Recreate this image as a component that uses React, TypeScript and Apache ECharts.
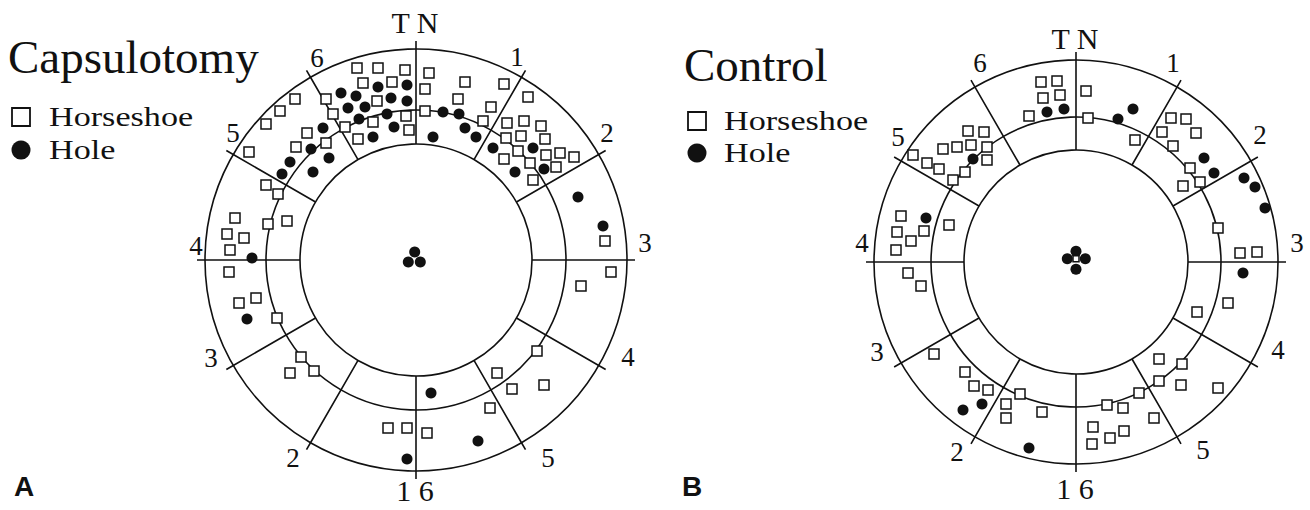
import React, { useEffect, useRef } from "react";
import * as echarts from "echarts";

// ---------------- data (offsets from each diagram's centre, in chart units; y up) ----------------
const capsHorseshoe: [number, number][] = [
  [-59, 192], [-38, 192], [-11, 190], [-53, 177], [-24, 178], [-90, 161], [-39, 159], [-83, 146],
  [-43, 138], [-10, 144], [-71, 133], [-58, 121], [-7, 130], [13, 187], [9, 171], [9, 149],
  [-121, 161], [-136, 149], [-150, 136], [-167, 108], [-109, 127], [-120, 113], [-90, 117],
  [-150, 75], [-138, 66], [-148, 36], [-129, 39], [-181, 42], [-189, 26], [-172, 22], [-186, 10],
  [-187, -12], [49, 178], [88, 176], [42, 161], [112, 163], [75, 153], [67, 139], [91, 137],
  [108, 139], [125, 134], [90, 122], [105, 124], [129, 121], [102, 109], [130, 105], [144, 107],
  [158, 103], [88, 101], [114, 97], [140, 93], [117, 80], [189, 19], [-160, -38], [-177, -43],
  [-139, -58], [-115, -97], [-126, -113], [-102, -111], [-28, -168], [-9, -168], [11, -173],
  [195, -12], [165, -26], [121, -91], [81, -113], [96, -129], [128, -125], [74, -148],
];
const capsHole: [number, number][] = [
  [-75, 167], [-60, 164], [-38, 173], [-9, 175], [-68, 152], [-51, 153], [-25, 162], [-9, 159],
  [-57, 141], [-29, 146], [-22, 133], [-43, 123], [-93, 132], [-105, 111], [-87, 102], [-126, 98],
  [-134, 86], [-103, 88], [27, 148], [17, 123], [-164, 2], [43, 146], [49, 132], [60, 123],
  [77, 112], [117, 112], [99, 88], [128, 91], [162, 63], [187, 34], [-169, -59], [15, -133],
  [-9, -199], [62, -181],
];
const capsCentreHole: [number, number][] = [[-1.3, 8], [-7.7, -2], [4.3, -2]];

const ctrlHorseshoe: [number, number][] = [
  [-35, 180], [-19, 181], [-33, 164], [-16, 167], [-47, 146], [10, 171], [12, 144], [-108, 131],
  [-92, 130], [-133, 113], [-119, 115], [-105, 117], [-89, 115], [-163, 107], [-149, 99],
  [-137, 93], [-123, 82], [-111, 90], [-89, 102], [-175, 46], [-179, 30], [-165, 21], [-152, 31],
  [-127, 37], [-180, 12], [-168, -11], [-155, -24], [-142, -92], [-111, -110], [-102, -124],
  [-88, -128], [-56, -132], [-70, -142], [-70, -156], [-34, -150], [59, 122], [95, 144],
  [110, 143], [86, 130], [120, 129], [97, 116], [114, 94], [124, 80], [107, 76], [142, 34],
  [164, 9], [181, 10], [152, -41], [121, -50], [83, -97], [106, -102], [83, -119], [105, -123],
  [142, -126], [63, -131], [31, -143], [47, -146], [78, -156], [17, -165], [34, -176], [48, -169],
  [16, -182],
];
const ctrlCentreHorseshoe: [number, number][] = [[0, 3.3]];
const ctrlHole: [number, number][] = [
  [-29, 150], [-12, 153], [-103, 103], [-150, 44], [42, 143], [57, 153], [128, 104], [138, 89],
  [168, 84], [179, 75], [189, 54], [167, -11], [-113, -148], [-94, -142], [-47, -186],
];
const ctrlCentreHole: [number, number][] = [[0, 10.7], [0, -7.3], [-8.7, 3.3], [9.3, 3.3]];

// clock-hour labels at 0°, 30°, … 330° (counter-clockwise from the right)
const clockLabels = ["3", "2", "1", "T N", "6", "5", "4", "3", "2", "1 6", "5", "4"];
const legendNames = ["Horseshoe", "Hole"];
const panelTitles = ["Capsulotomy", "Control"];
const panelLetters = ["A", "B"];

// ---------------- layout ----------------
const P = [
  { cx: 416, cy: 260, r0: 116, rMid: 150, r1: 211 },
  { cx: 1076, cy: 262, r0: 112, rMid: 145, r1: 202 },
];
const labelOffsets = [
  [[229, -17], [191, -127], [101, -203], [-1, -238], [-99, -202], [-183, -127], [-220, -14], [-205, 98], [-123, 198], [-1, 230], [132, 198], [212, 97]],
  [[221, -19], [184, -127], [97, -199], [-1, -224], [-96, -199], [-178, -125], [-214, -19], [-199, 90], [-119, 190], [-1, 226], [127, 188], [202, 88]],
];
const titlePos = [[8, 57], [684, 65]];
const legendPos = [
  { sq: [12, 108], dot: [21, 150], tx: 49, ty: [117, 150] },
  { sq: [688, 112], dot: [697, 153], tx: 724, ty: [121, 153] },
];
const letterPos = [[24, 486], [692, 486]];

const SERIF = "'Liberation Serif', 'Times New Roman', serif";
const INK = "#111";

function text(
  t: string, x: number, y: number, size: number, align = "center",
  family = SERIF, weight = "normal", scaleX = 1,
) {
  return {
    type: "text",
    x,
    y,
    scaleX,
    silent: true,
    style: {
      text: t,
      fill: INK,
      fontSize: size,
      fontFamily: family,
      fontWeight: weight,
      align,
      verticalAlign: "middle",
      textAlign: align,
      textVerticalAlign: "middle",
    },
  };
}

export default function App() {
  const ref = useRef<HTMLDivElement>(null);
  useEffect(() => {
    if (!ref.current) return;
    const chart = echarts.init(ref.current, undefined, { renderer: "svg" });

    const lineStyle = { color: INK, width: 1.6 };
    const polar: any[] = [];
    const angleAxis: any[] = [];
    const radiusAxis: any[] = [];
    P.forEach((p) => {
      // ring with the radial clock-hour lines
      polar.push({ center: [p.cx, p.cy], radius: [p.r0, p.r1] });
      // middle circle
      polar.push({ center: [p.cx, p.cy], radius: [0, p.rMid] });
    });
    polar.forEach((_, i) => {
      const ring = i % 2 === 0;
      angleAxis.push({
        polarIndex: i,
        type: "value",
        min: 0,
        max: 360,
        interval: 30,
        startAngle: 0,
        clockwise: false,
        silent: true,
        axisLine: { show: true, lineStyle },
        axisTick: { show: ring, length: 8, lineStyle },
        splitLine: { show: ring, lineStyle },
        axisLabel: { show: false },
      });
      radiusAxis.push({ polarIndex: i, type: "value", min: 0, max: 1, show: false });
    });

    const grid = P.map((p) => ({ left: p.cx - p.r1, top: p.cy - p.r1, width: 2 * p.r1, height: 2 * p.r1 }));
    const xAxis = P.map((p, i) => ({ gridIndex: i, type: "value", min: -p.r1, max: p.r1, show: false }));
    const yAxis = P.map((p, i) => ({ gridIndex: i, type: "value", min: -p.r1, max: p.r1, show: false }));

    const squares = (data: [number, number][], gi: number, size = 10, z = 3) => ({
      type: "scatter",
      name: legendNames[0],
      xAxisIndex: gi,
      yAxisIndex: gi,
      data,
      symbol: "rect",
      symbolSize: size,
      z,
      itemStyle: { color: "#fff", borderColor: INK, borderWidth: 1.5, opacity: 1 },
      silent: true,
    });
    const dots = (data: [number, number][], gi: number) => ({
      type: "scatter",
      name: legendNames[1],
      xAxisIndex: gi,
      yAxisIndex: gi,
      data,
      symbol: "circle",
      symbolSize: 11,
      z: 4,
      itemStyle: { color: INK, opacity: 1 },
      silent: true,
    });

    const graphics: any[] = [];
    P.forEach((p, k) => {
      clockLabels.forEach((lab, j) => {
        const [dx, dy] = labelOffsets[k][j];
        graphics.push(text(lab, p.cx + dx, p.cy + dy, lab.length > 1 ? 30 : 27));
      });
      graphics.push(text(panelTitles[k], titlePos[k][0], titlePos[k][1], 47, "left"));
      const L = legendPos[k];
      graphics.push({
        type: "rect",
        silent: true,
        shape: { x: L.sq[0], y: L.sq[1], width: 18, height: 18 },
        style: { fill: "#fff", stroke: INK, lineWidth: 1.8 },
      });
      graphics.push({ type: "circle", silent: true, shape: { cx: L.dot[0], cy: L.dot[1], r: 9.5 }, style: { fill: INK } });
      graphics.push(text(legendNames[0], L.tx, L.ty[0], 28, "left", SERIF, "normal", 1.22));
      graphics.push(text(legendNames[1], L.tx, L.ty[1], 28, "left", SERIF, "normal", 1.22));
      graphics.push(text(panelLetters[k], letterPos[k][0], letterPos[k][1], 28, "center", "'Liberation Sans', Arial, sans-serif", "bold"));
    });

    chart.setOption({
      animation: false,
      backgroundColor: "#fff",
      polar,
      angleAxis,
      radiusAxis,
      grid,
      xAxis,
      yAxis,
      series: [
        squares(capsHorseshoe, 0),
        dots(capsHole, 0),
        dots(capsCentreHole, 0),
        squares(ctrlHorseshoe, 1),
        dots(ctrlHole, 1),
        dots(ctrlCentreHole, 1),
        squares(ctrlCentreHorseshoe, 1, 6, 5),
      ],
      graphic: { elements: graphics },
    });
    return () => chart.dispose();
  }, []);
  return <div ref={ref} style={{ position: "fixed", left: 0, top: 0, width: 1310, height: 510 }} />;
}
